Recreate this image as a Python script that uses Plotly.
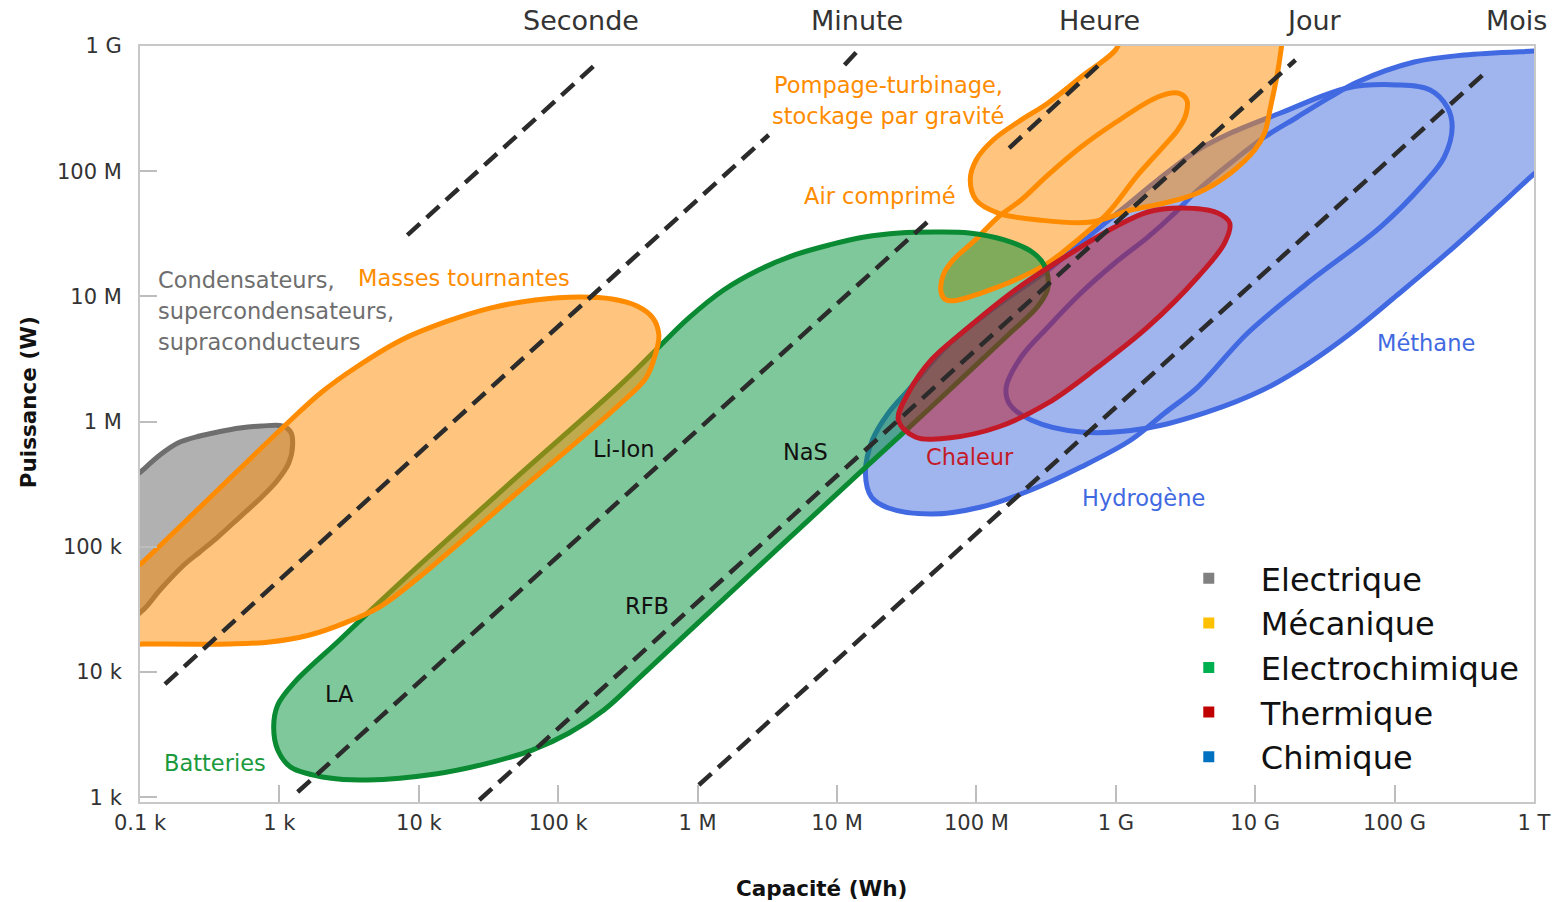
import plotly.graph_objects as go

# ---------------- axes ----------------
x_tickvals = [1e2, 1e3, 1e4, 1e5, 1e6, 1e7, 1e8, 1e9, 1e10, 1e11, 1e12]
x_ticktext = ["0.1 k", "1 k", "10 k", "100 k", "1 M", "10 M", "100 M", "1 G", "10 G", "100 G", "1 T"]
y_tickvals = [1e3, 1e4, 1e5, 1e6, 1e7, 1e8, 1e9]
y_ticktext = ["1 k", "10 k", "100 k", "1 M", "10 M", "100 M", "1 G"]

duration_labels = ["Seconde", "Minute", "Heure", "Jour", "Mois"]
duration_xpaper = [0.3164, 0.514, 0.6886, 0.8425, 0.9871]

# ---------------- outlines (log10 capacity [Wh], log10 power [W]) ----------------
electrique_logE = [1.871, 2.021, 2.143, 2.272, 2.429, 2.558, 2.716, 2.873, 3.024, 3.081, 3.095, 3.067, 2.988,
                   2.873, 2.716, 2.558, 2.429, 2.315, 2.143, 2.021, 1.857]
electrique_logP = [5.454, 5.614, 5.733, 5.829, 5.885, 5.917, 5.949, 5.965, 5.965, 5.917, 5.813, 5.669, 5.534,
                   5.398, 5.238, 5.078, 4.959, 4.855, 4.655, 4.495, 4.376]

masses_logE = [1.893, 2.021, 2.551, 3.074, 3.296, 3.553, 3.875, 4.190, 4.512, 4.835, 5.150, 5.386, 5.565, 5.679,
               5.722, 5.694, 5.629, 5.436, 4.720, 4.004, 3.718, 3.467, 3.217, 2.931, 2.644, 2.021, 1.893]
masses_logP = [4.751, 4.879, 5.446, 6.005, 6.229, 6.436, 6.652, 6.796, 6.907, 6.971, 6.995, 6.979, 6.923, 6.828,
               6.692, 6.524, 6.348, 6.133, 5.446, 4.759, 4.519, 4.391, 4.296, 4.240, 4.224, 4.224, 4.224]

batteries_logE = [4.720, 5.436, 5.701, 5.937, 6.187, 6.438, 6.696, 6.946, 7.197, 7.447, 7.698, 7.948, 8.199,
                  8.399, 8.485, 8.514, 8.442, 8.227, 7.691, 7.154, 6.581, 6.009, 5.579, 5.328, 5.078, 4.813,
                  4.470, 4.119, 3.632, 3.360, 3.081, 2.988, 2.959, 2.988, 3.110, 3.432, 3.718, 4.004]
batteries_logP = [5.574, 6.284, 6.572, 6.828, 7.051, 7.211, 7.331, 7.411, 7.474, 7.506, 7.514, 7.506, 7.451,
                  7.355, 7.251, 7.075, 6.923, 6.692, 6.133, 5.582, 4.991, 4.399, 3.952, 3.697, 3.513, 3.377,
                  3.265, 3.186, 3.138, 3.153, 3.241, 3.377, 3.561, 3.737, 3.920, 4.256, 4.559, 4.855]

air_logE = [8.514, 8.750, 8.993, 9.301, 9.444, 9.509, 9.502, 9.444, 9.351, 9.158, 8.943, 8.750, 8.514, 8.278,
            8.034, 7.870, 7.784, 7.748, 7.762, 7.834, 7.991, 8.156, 8.321]
air_logP = [7.970, 8.193, 8.385, 8.593, 8.625, 8.569, 8.449, 8.329, 8.209, 7.970, 7.666, 7.474, 7.267, 7.131,
            7.027, 6.971, 6.971, 7.027, 7.171, 7.291, 7.451, 7.634, 7.770]

pompage_logE = [9.001, 9.015, 8.750, 8.514, 8.299, 8.120, 7.998, 7.956, 7.998, 8.156, 8.449, 8.822, 9.108, 9.351,
                9.588, 9.824, 9.996, 10.067, 10.110, 10.160, 10.189, 10.203]
pompage_logP = [9.128, 9.000, 8.752, 8.545, 8.393, 8.249, 8.089, 7.930, 7.770, 7.666, 7.610, 7.594, 7.690, 7.746,
                7.826, 7.986, 8.169, 8.305, 8.513, 8.784, 9.000, 9.128]

hydrogene_logE = [9.946, 10.375, 10.898, 11.213, 11.356, 11.413, 11.377, 11.255, 11.019, 10.661, 10.182, 9.824,
                  9.588, 9.301, 9.065, 8.800, 8.514, 8.156, 7.798, 7.512, 7.369, 7.254, 7.204, 7.247, 7.369, 7.676,
                  8.034, 8.392, 8.750, 9.108, 9.351, 9.588]
hydrogene_logP = [6.708, 7.107, 7.554, 7.906, 8.113, 8.353, 8.513, 8.649, 8.689, 8.665, 8.465, 8.305,
                  8.169, 7.930, 7.714, 7.474, 7.211, 6.931, 6.612, 6.252, 6.069, 5.853, 5.590, 5.398, 5.310, 5.262,
                  5.318, 5.454, 5.637, 5.853, 6.069, 6.276]

methane_logE = [12.165, 12.165, 12.000, 11.735, 11.377, 11.019, 10.697, 10.375, 10.053, 9.659, 9.230, 8.750,
                8.392, 8.242, 8.213, 8.321, 8.514, 8.750, 8.993, 9.230, 9.423, 9.566, 9.824, 10.067, 10.303,
                10.540, 10.733, 11.141, 11.499, 12.000]
methane_logP = [8.968, 8.129, 7.978, 7.706, 7.347, 7.011, 6.716, 6.460, 6.252, 6.077, 5.949, 5.917,
                6.013, 6.133, 6.268, 6.516, 6.756, 7.027, 7.267, 7.474, 7.666, 7.826, 8.066, 8.273, 8.433,
                8.593, 8.712, 8.872, 8.928, 8.960]

chaleur_logE = [8.872, 9.230, 9.588, 9.781, 9.817, 9.731, 9.466, 9.230, 8.993, 8.635, 8.278, 7.920, 7.676, 7.512,
                7.440, 7.562, 7.798, 8.156, 8.514]
chaleur_logP = [6.436, 6.756, 7.155, 7.427, 7.586, 7.666, 7.706, 7.674, 7.554, 7.315, 7.051, 6.732, 6.492, 6.229,
                6.013, 5.877, 5.869, 5.957, 6.149]

# iso-duration dashed segments (log10 E start/end, log10 P start/end)
iso_logE = [[3.918, 5.271], [2.179, 6.510], [7.054, 7.154], [3.131, 7.648], [8.235, 8.901],
            [4.434, 10.289], [6.009, 11.671]]
iso_logP = [[7.490, 8.856], [3.904, 8.289], [8.848, 8.968], [3.042, 7.594], [8.185, 8.872],
            [2.978, 8.888], [3.098, 8.808]]

# legend categories
legend_names = ["Electrique", "Mécanique", "Electrochimique", "Thermique", "Chimique"]
legend_colors = ["#808080", "#FFC000", "#00B050", "#C00000", "#0070C0"]

# ---------------- colours ----------------
BLUE_FILL, BLUE_LINE = "#A0B4EE", "#4169E1"
ORANGE_FILL, ORANGE_LINE = "rgba(255,140,0,0.5)", "#FF8C00"
GREEN_FILL, GREEN_LINE = "rgba(0,145,55,0.5)", "#0A8A32"
GRAY_FILL, GRAY_LINE = "rgba(100,100,100,0.5)", "#6E6E6E"
RED_FILL, RED_LINE = "rgba(186,20,34,0.5)", "#C41A28"

FONT = "DejaVu Sans"


def vals(lst):
    return [None if v is None else 10 ** v for v in lst]


def closed(lst):
    return list(lst) + [lst[0]]


fig = go.Figure()


def add_fill(le, lp, color):
    fig.add_trace(go.Scatter(x=vals(le), y=vals(lp), mode="lines", fill="toself", fillcolor=color,
                             line=dict(width=0, shape="spline", smoothing=1),
                             hoverinfo="skip", showlegend=False))


def add_outline(le, lp, color, width=5):
    fig.add_trace(go.Scatter(x=vals(closed(le)), y=vals(closed(lp)), mode="lines",
                             line=dict(color=color, width=width, shape="spline", smoothing=1),
                             hoverinfo="skip", showlegend=False))


# blue (chimique)
add_fill(closed(hydrogene_logE), closed(hydrogene_logP), BLUE_FILL)
add_fill(closed(methane_logE), closed(methane_logP), BLUE_FILL)
add_outline(hydrogene_logE, hydrogene_logP, BLUE_LINE)
add_outline(methane_logE, methane_logP, BLUE_LINE)

# orange: air comprimé + pompage as one union fill
orange_E = closed(air_logE) + [None] + closed(pompage_logE[::-1])
orange_P = closed(air_logP) + [None] + closed(pompage_logP[::-1])
add_fill(orange_E, orange_P, ORANGE_FILL)

# green batteries fill
add_fill(closed(batteries_logE), closed(batteries_logP), GREEN_FILL)
add_outline(pompage_logE, pompage_logP, ORANGE_LINE)
add_outline(air_logE, air_logP, ORANGE_LINE)
add_outline(batteries_logE, batteries_logP, GREEN_LINE)

# gray electrique
add_fill(closed(electrique_logE), closed(electrique_logP), GRAY_FILL)
add_outline(electrique_logE, electrique_logP, GRAY_LINE)

# masses tournantes
add_fill(closed(masses_logE), closed(masses_logP), ORANGE_FILL)
add_outline(masses_logE, masses_logP, ORANGE_LINE)

# chaleur
add_fill(closed(chaleur_logE), closed(chaleur_logP), RED_FILL)
add_outline(chaleur_logE, chaleur_logP, RED_LINE)

# dashed iso-duration lines
for le, lp in zip(iso_logE, iso_logP):
    fig.add_trace(go.Scatter(x=vals(le), y=vals(lp), mode="lines",
                             line=dict(color="#2b2b2b", width=4.5, dash="17px,9px"),
                             hoverinfo="skip", showlegend=False))

# legend entries
for n, c in zip(legend_names, legend_colors):
    fig.add_trace(go.Scatter(x=[None], y=[None], mode="markers", name=n,
                             marker=dict(symbol="square", size=11, color=c)))

# ---------------- labels ----------------
labels = [
    ("Condensateurs,", 2.115, 7.131, "#6E6E6E", "left"),
    ("supercondensateurs,", 2.115, 6.883, "#6E6E6E", "left"),
    ("supraconducteurs", 2.115, 6.636, "#6E6E6E", "left"),
    ("Masses tournantes", 4.326, 7.147, ORANGE_LINE, "center"),
    ("Pompage-turbinage,", 7.369, 8.689, ORANGE_LINE, "center"),
    ("stockage par gravité", 7.369, 8.441, ORANGE_LINE, "center"),
    ("Air comprimé", 7.311, 7.802, ORANGE_LINE, "center"),
    ("Li-Ion", 5.472, 5.781, "#111111", "center"),
    ("NaS", 6.775, 5.757, "#111111", "center"),
    ("RFB", 5.636, 4.527, "#111111", "center"),
    ("LA", 3.432, 3.825, "#111111", "center"),
    ("Batteries", 2.537, 3.273, "#1A9A3C", "center"),
    ("Chaleur", 7.956, 5.717, RED_LINE, "center"),
    ("Hydrogène", 9.201, 5.390, BLUE_LINE, "center"),
    ("Méthane", 11.227, 6.628, BLUE_LINE, "center"),
]
annotations = []
for t, lx, ly, col, anchor in labels:
    annotations.append(dict(text=t, x=lx, y=ly, xref="x", yref="y", showarrow=False, xanchor=anchor,
                            yanchor="middle", font=dict(family=FONT, size=22.5, color=col)))
for t, xp in zip(duration_labels, duration_xpaper):
    annotations.append(dict(text=t, x=xp, y=1.034, xref="paper", yref="paper", showarrow=False,
                            xanchor="center", yanchor="middle", font=dict(family=FONT, size=27, color="#333333")))
annotations.append(dict(text="<b>Puissance (W)</b>", x=-0.0802, y=0.529, xref="paper", yref="paper",
                        showarrow=False, textangle=-90, xanchor="center", yanchor="middle",
                        font=dict(family=FONT, size=21.5, color="#111111")))
annotations.append(dict(text="<b>Capacité (Wh)</b>", x=0.489, y=-0.1138, xref="paper", yref="paper",
                        showarrow=False, xanchor="center", yanchor="middle",
                        font=dict(family=FONT, size=21.5, color="#111111")))

axis_common = dict(type="log", showgrid=False, zeroline=False, showline=True, linecolor="#C8C8C8",
                   linewidth=2, mirror=True, ticks="inside", ticklen=17, tickwidth=1.5, tickcolor="#BDBDBD",
                   tickfont=dict(family=FONT, size=21, color="#333333"))

fig.update_layout(
    width=1563, height=902, autosize=False,
    margin=dict(l=140, r=26, t=46, b=100),
    paper_bgcolor="white", plot_bgcolor="white",
    hovermode=False,
    xaxis=dict(range=[2, 12], tickvals=x_tickvals, ticktext=x_ticktext, ticklabelstandoff=1, **axis_common),
    yaxis=dict(range=[2.962, 9], tickvals=y_tickvals, ticktext=y_ticktext, ticklabelstandoff=12, **axis_common),
    annotations=annotations,
    legend=dict(x=0.7294, y=0.332, xanchor="left", yanchor="top", bgcolor="rgba(0,0,0,0)",
                itemwidth=94, tracegroupgap=0,
                font=dict(family=FONT, size=32, color="#111111")),
)

fig.write_html("out.html", config={"displayModeBar": False},
               post_script="document.body.style.margin='0';")
